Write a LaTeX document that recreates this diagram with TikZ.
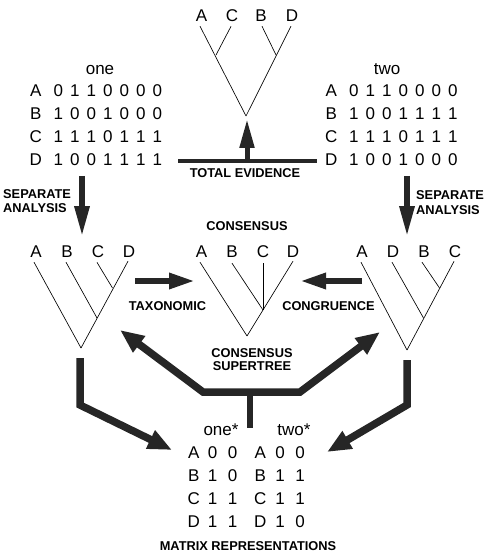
\documentclass[tikz,border=0pt]{standalone}
\usepackage{fontspec}
\setmainfont{Liberation Sans}
\usetikzlibrary{arrows.meta}
\newcommand{\dg}[1]{\makebox[16.5pt]{#1}}
\newcommand{\dgw}[1]{\makebox[20pt]{#1}}
\tikzset{
  mtx/.style={inner sep=0pt, anchor=base west, font=\fontsize{17}{20}\selectfont},
  lbl/.style={inner sep=0pt, anchor=base, font=\fontsize{17}{20}\selectfont},
  captxt/.style={inner sep=0pt, anchor=base, font=\fontsize{12.8}{14}\selectfont\bfseries},
  captxtl/.style={captxt, anchor=base west},
  br/.style={line width=0.65pt, draw=black},
  fat/.style={draw=black!85, line join=miter, line cap=butt},
  tipbig/.style={-{Triangle[length=31pt,width=14pt]}},
}
\begin{document}
\begin{tikzpicture}[x=1pt,y=-1pt]
\useasboundingbox (0,0) rectangle (487,553);

% ---------- matrices one / two ----------
\node[lbl] (one) at (100,75) {one};
\node[mtx] (oA) at (25.5,97)  {\makebox[20pt]{A}\hspace{4.5pt}\dg0\dg1\dg1\dg0\dg0\dg0\dg0};
\node[mtx] (oB) at (25.5,120) {\makebox[20pt]{B}\hspace{4.5pt}\dg1\dg0\dg0\dg1\dg0\dg0\dg0};
\node[mtx] (oC) at (25.5,143) {\makebox[20pt]{C}\hspace{4.5pt}\dg1\dg1\dg1\dg0\dg1\dg1\dg1};
\node[mtx] (oD) at (25.5,166) {\makebox[20pt]{D}\hspace{4.5pt}\dg1\dg0\dg0\dg1\dg1\dg1\dg1};

\node[lbl] (two) at (387,75) {two};
\node[mtx] (wA) at (321,97)  {\makebox[20pt]{A}\hspace{4.5pt}\dg0\dg1\dg1\dg0\dg0\dg0\dg0};
\node[mtx] (wB) at (321,120) {\makebox[20pt]{B}\hspace{4.5pt}\dg1\dg0\dg0\dg1\dg1\dg1\dg1};
\node[mtx] (wC) at (321,143) {\makebox[20pt]{C}\hspace{4.5pt}\dg1\dg1\dg1\dg0\dg1\dg1\dg1};
\node[mtx] (wD) at (321,166) {\makebox[20pt]{D}\hspace{4.5pt}\dg1\dg0\dg0\dg1\dg0\dg0\dg0};

% ---------- top tree (total evidence) ----------
\node[lbl] (tA) at (201.5,22) {A};
\node[lbl] (tC) at (232,22) {C};
\node[lbl] (tB) at (261,22) {B};
\node[lbl] (tD) at (292,22) {D};
\coordinate (tR) at (246,116);
\coordinate (tAC) at (216,55);
\coordinate (tBD) at (276,55);
\draw[br] ([xshift=-1.5pt,yshift=-4pt]tA.south) -- (tR);
\draw[br] ([xshift=-1pt,yshift=-4pt]tC.south) -- (tAC);
\draw[br] ([xshift=1pt,yshift=-4pt]tB.south) -- (tBD);
\draw[br] ([xshift=-1pt,yshift=-4pt]tD.south) -- (tR);

% total evidence bar + arrow
\coordinate (teL) at (178,161);
\coordinate (teR) at (317,161);
\coordinate (teM) at (247,161);
\coordinate (teT) at (247,119);
\draw[fat, line width=4.5pt] (teL) -- (teR);
\draw[fat, line width=5pt, -{Triangle[length=29pt,width=14pt]}] (teM) -- (teT);
\node[captxt] (te) at (245,178) {TOTAL EVIDENCE};

% ---------- separate analysis ----------
\coordinate (sL0) at (82,176);
\coordinate (sL1) at (82,237);
\coordinate (sR0) at (407,176);
\coordinate (sR1) at (407,237);
\draw[fat, line width=6pt, tipbig] (sL0) -- (sL1);
\draw[fat, line width=6pt, tipbig] (sR0) -- (sR1);
\node[captxtl] (sepL1) at (3,198) {SEPARATE};
\node[captxtl] (sepL2) at (3,212.5) {ANALYSIS};
\node[captxtl] (sepR1) at (416,200) {SEPARATE};
\node[captxtl] (sepR2) at (416,214.5) {ANALYSIS};

% ---------- left tree ----------
\node[lbl] (lA) at (36,257) {A};
\node[lbl] (lB) at (67,257) {B};
\node[lbl] (lC) at (98,257) {C};
\node[lbl] (lD) at (129,257) {D};
\coordinate (lR) at (81,348);
\coordinate (lBj) at (97,318);
\coordinate (lCj) at (112.5,288);
\draw[br] ([xshift=-2pt,yshift=-5pt]lA.south) -- (lR);
\draw[br] ([xshift=-1pt,yshift=-5pt]lB.south) -- (lBj);
\draw[br] ([xshift=-1pt,yshift=-5pt]lC.south) -- (lCj);
\draw[br] ([xshift=-1pt,yshift=-4pt]lD.south) -- (lR);

% ---------- consensus tree ----------
\node[captxt] (cons) at (247,230) {CONSENSUS};
\node[lbl] (mA) at (201.5,257) {A};
\node[lbl] (mB) at (232,257) {B};
\node[lbl] (mC) at (263,257) {C};
\node[lbl] (mD) at (293,257) {D};
\coordinate (mR) at (247,336);
\coordinate (mj) at (263,310);
\draw[br] ([xshift=-1.5pt,yshift=-5pt]mA.south) -- (mR);
\draw[br] ([yshift=-6pt]mB.south) -- (mj);
\draw[br, line width=0.5pt] ([yshift=-6pt]mC.south) -- (mj);
\draw[br] ([yshift=-4pt]mD.south) -- (mR);

% ---------- right tree ----------
\node[lbl] (rA) at (362,257) {A};
\node[lbl] (rD) at (393,257) {D};
\node[lbl] (rB) at (424,257) {B};
\node[lbl] (rC) at (455,257) {C};
\coordinate (rR) at (407,350);
\coordinate (rDj) at (423.5,318);
\coordinate (rBj) at (439.5,288);
\draw[br] ([xshift=-1pt,yshift=-5pt]rA.south) -- (rR);
\draw[br] ([xshift=-1pt,yshift=-5pt]rD.south) -- (rDj);
\draw[br] ([xshift=-2pt,yshift=-5pt]rB.south) -- (rBj);
\draw[br] ([xshift=-1pt,yshift=-4pt]rC.south) -- (rR);

% ---------- taxonomic / congruence ----------
\coordinate (hx0) at (135,281);
\coordinate (hx1) at (195,281);
\coordinate (hy0) at (362,281);
\coordinate (hy1) at (300,281);
\draw[fat, line width=6pt, -{Triangle[length=26pt,width=15pt]}] (hx0) -- (hx1);
\draw[fat, line width=6pt, -{Triangle[length=26pt,width=15pt]}] (hy0) -- (hy1);
\node[captxt] (tax) at (167.5,310) {TAXONOMIC};
\node[captxt] (cong) at (328.5,310) {CONGRUENCE};

% ---------- consensus supertree ----------
\node[captxt] (cs1) at (252,357) {CONSENSUS};
\node[captxt] (cs2) at (252,370.5) {SUPERTREE};
\coordinate (vL) at (120,330);
\coordinate (vLe) at (203,392);
\coordinate (vRe) at (300,392);
\coordinate (vR) at (380,332);
\coordinate (vS0) at (250,392);
\coordinate (vS1) at (250,428);
\draw[fat, line width=7.5pt, {Triangle[length=24pt,width=19pt]}-{Triangle[length=24pt,width=19pt]}]
  (vL) -- (vLe) -- (vRe) -- (vR);
\draw[fat, line width=6pt] (vS0) -- (vS1);

% ---------- to matrix representations ----------
\coordinate (pL0) at (80,358);
\coordinate (pL1) at (80,405);
\coordinate (pL2) at (172,450);
\coordinate (pR0) at (407,360);
\coordinate (pR1) at (407,405);
\coordinate (pR2) at (327,452);
\draw[fat, line width=7.5pt, -{Triangle[length=24pt,width=19pt]}] (pL0) -- (pL1) -- (pL2);
\draw[fat, line width=7.5pt, -{Triangle[length=24pt,width=19pt]}] (pR0) -- (pR1) -- (pR2);

% ---------- matrix representations ----------
\node[lbl] (ones) at (221,435) {one*};
\node[lbl] (twos) at (294,435) {two*};
\node[mtx] (sA1) at (186.5,458) {\makebox[14pt]{A}\hspace{2pt}\dgw0\dgw0};
\node[mtx] (sB1) at (186.5,481) {\makebox[14pt]{B}\hspace{2pt}\dgw1\dgw0};
\node[mtx] (sC1) at (186.5,504) {\makebox[14pt]{C}\hspace{2pt}\dgw1\dgw1};
\node[mtx] (sD1) at (186.5,527) {\makebox[14pt]{D}\hspace{2pt}\dgw1\dgw1};
\node[mtx] (sA2) at (253,458) {\makebox[14pt]{A}\hspace{3pt}\dgw0\dgw0};
\node[mtx] (sB2) at (253,481) {\makebox[14pt]{B}\hspace{3pt}\dgw1\dgw1};
\node[mtx] (sC2) at (253,504) {\makebox[14pt]{C}\hspace{3pt}\dgw1\dgw1};
\node[mtx] (sD2) at (253,527) {\makebox[14pt]{D}\hspace{3pt}\dgw1\dgw0};
\node[captxt] (mrep) at (248,550) {MATRIX REPRESENTATIONS};
\end{tikzpicture}
\end{document}
